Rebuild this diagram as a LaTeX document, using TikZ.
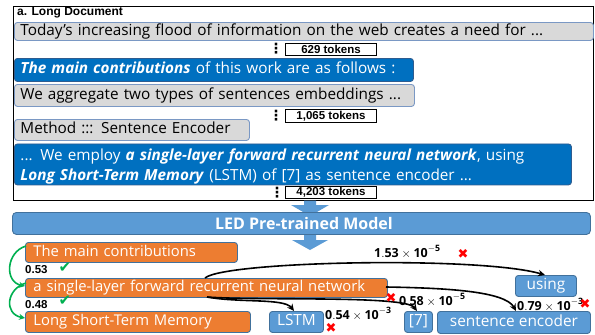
\documentclass[tikz,border=0pt]{standalone}
\usepackage{fontspec}
\setmainfont{Open Sans}
\newfontfamily\labfont{Liberation Sans}
\newfontfamily\symfont{DejaVu Sans}
\usetikzlibrary{arrows.meta}

\definecolor{boxgray}{HTML}{D9D9D9}
\definecolor{grayedge}{HTML}{7A98C4}
\definecolor{deepblue}{HTML}{0070C0}
\definecolor{deepedge}{HTML}{2F5C8F}
\definecolor{midblue}{HTML}{5B9BD5}
\definecolor{edgeblue}{HTML}{41719C}
\definecolor{orangefill}{HTML}{ED7D31}
\definecolor{okgreen}{HTML}{00B050}
\definecolor{badred}{HTML}{FF0000}

\newcommand{\scoretext}[2]{\ensuremath{\mathbf{#1}\times\mathbf{10}^{\mathbf{#2}}}}

\tikzset{
  docbox/.style={rounded corners=3pt, line width=0.9pt, inner xsep=6pt, inner ysep=0pt,
    anchor=north west, align=left, font=\fontsize{15.3}{19.5}\selectfont},
  grayline/.style={docbox, draw=grayedge, fill=boxgray, text=black,
    text height=11pt, text depth=3.8pt},
  blueline/.style={docbox, draw=deepedge, fill=deepblue, text=white},
  tokbox/.style={draw=black, fill=white, line width=0.8pt, inner sep=0pt,
    minimum width=91pt, minimum height=12.5pt,
    font=\labfont\bfseries\fontsize{11.5}{12}\selectfont},
  vdots/.style={inner sep=0pt, font=\symfont\bfseries\fontsize{14}{14}\selectfont},
  keybox/.style={draw=edgeblue, fill=orangefill, text=white, rounded corners=3pt,
    line width=0.9pt, inner xsep=8pt, inner ysep=0pt, anchor=north west, align=left,
    text height=11pt, text depth=3.6pt, font=\fontsize{14.8}{16}\selectfont},
  candbox/.style={draw=edgeblue, fill=midblue, text=white, rounded corners=3pt,
    line width=0.9pt, inner sep=0pt, anchor=north west,
    text height=11pt, text depth=3.8pt, font=\fontsize{15.4}{16}\selectfont},
  blockarrow/.style={fill=midblue, draw=none},
  link/.style={draw=black, line width=1.6pt, -{Stealth[length=7pt,width=6.5pt]}},
  glink/.style={draw=okgreen, line width=1.6pt, -{Stealth[length=6pt,width=6pt]}},
  scorelabel/.style={inner sep=0pt, font=\fontsize{12.5}{13}\selectfont},
  scoresans/.style={inner sep=0pt, font=\labfont\bfseries\fontsize{11.5}{12}\selectfont},
  okmark/.style={inner sep=0pt, text=okgreen, font=\symfont\fontsize{15}{15}\selectfont},
  badmark/.style={inner sep=0pt, text=badred, font=\symfont\fontsize{13}{13}\selectfont},
}

\begin{document}
\begin{tikzpicture}[x=1pt,y=-1pt]
\useasboundingbox (0,0) rectangle (595,335);

% document frame
\draw[line width=1pt] (13,6) rectangle (593.5,200.5);
\node[anchor=west, inner sep=0pt, font=\labfont\bfseries\fontsize{12}{12}\selectfont] (title) at (17,12.5) {a. Long Document};

% paragraphs of the long document
\node[grayline, text width=567pt, minimum height=18pt] (p1) at (14,22)
  {Today’s increasing flood of information on the web creates a need for ...};
\node[vdots] (d1) at (276,49) {⋮};
\node[tokbox] (k1) at (331,49.5) {629 tokens};

\node[blueline, text width=387pt, minimum height=23pt, text height=11pt, text depth=3.8pt] (p2) at (14,58)
  {\textbf{\textit{The main contributions}} of this work are as follows :};
\node[grayline, text width=388pt, minimum height=22pt] (p3) at (14,84)
  {We aggregate two types of sentences embeddings ...};
\node[vdots] (d2) at (276,116) {⋮};
\node[tokbox] (k2) at (331,116) {1,065 tokens};

\node[grayline, text width=223pt, minimum height=21pt] (p4) at (14,119)
  {Method ::: Sentence Encoder};
\node[blueline, text width=545pt, minimum height=41pt] (p5) at (14,143.5)
  {\rule{0pt}{15.5pt}... We employ \textbf{\textit{a single-layer forward recurrent neural network}}, using\\
   \textbf{\textit{Long Short-Term Memory}} (LSTM) of [7] as sentence encoder ...};
\node[vdots] (d3) at (277,192.5) {⋮};
\node[tokbox] (k3) at (331,192.5) {4,203 tokens};

% flow arrows through the model
\path[blockarrow] (304,200.5) -- (316,200.5) -- (316,205) -- (329,205) -- (310,216)
  -- (291,205) -- (304,205) -- cycle;
\path[blockarrow] (304,234) -- (316,234) -- (316,240) -- (328,240) -- (310,250)
  -- (292,240) -- (304,240) -- cycle;
\node[draw=edgeblue, fill=midblue, line width=0.9pt, rounded corners=4pt, text=white,
  minimum width=578pt, minimum height=22pt, inner sep=0pt, anchor=north west,
  font=\bfseries\fontsize{16}{16}\selectfont] (led) at (12,212)
  {\hspace*{5pt}LED Pre-trained Model};

% key phrases
\node[keybox, text width=196pt, minimum height=20pt] (o1) at (25,242) {\mbox{The main contributions}};
\node[keybox, text width=346pt, minimum height=19pt] (o2) at (25,278) {\mbox{a single-layer forward recurrent neural network}};
\node[keybox, text width=209pt, minimum height=21pt] (o3) at (25,311) {\mbox{Long Short-Term Memory}};

% candidate words
\node[candbox, minimum width=54pt, minimum height=21pt] (lstm) at (269,311) {LSTM};
\node[candbox, minimum width=28pt, minimum height=21pt] (ref7) at (404,311) {[7]};
\node[candbox, minimum width=153pt, minimum height=22pt] (senc) at (437,311) {sentence encoder};
\node[candbox, minimum width=61pt, minimum height=21pt] (using) at (515,275) {using};

% attachment points on the boxes
\coordinate (o1a) at (26,246);
\coordinate (o2in) at (25,286);
\coordinate (o2a) at (26,283);
\coordinate (o3in) at (25,318);
\coordinate (o2top) at (205,278);
\coordinate (o2right) at (386,287);
\coordinate (o2bot) at (207,297);
\coordinate (usingin) at (545,275);
\coordinate (sencin) at (516,311);
\coordinate (lstmin) at (294,311);
\coordinate (refin) at (417,311);

% links between key phrases
\draw[glink] (o1a) .. controls (6,252) and (4,282) .. (o2in);
\draw[glink] (o2a) .. controls (6,289) and (4,314) .. (o3in);
\node[scoresans, anchor=west] (s1) at (25,270) {0.53};
\node[okmark] (c1) at (65,267.5) {✔};
\node[scoresans, anchor=west] (s2) at (25,304.5) {0.48};
\node[okmark] (c2) at (65,301) {✔};

% links to candidate words
\draw[link] (o2top) .. controls (225,261) and (480,256) .. (usingin);
\draw[link] (o2right) .. controls (445,288) and (505,291) .. (sencin);
\draw[link] (o2bot) .. controls (240,303) and (284,298) .. (lstmin);
\draw[link] (o2bot) .. controls (260,301) and (405,295) .. (refin);

% scores of the links
\node[scorelabel, anchor=west] (m1) at (374,252) {\scoretext{1.53}{-5}};
\node[badmark] (x1) at (463,254) {✖};
\node[scorelabel, anchor=west] (m2) at (399,300) {\scoretext{0.58}{-5}};
\node[badmark] (x2) at (391,298) {✖};
\node[scorelabel, anchor=west] (m3) at (517,305) {\scoretext{0.79}{-3}};
\node[badmark] (x3) at (585,304) {✖};
\node[scorelabel, anchor=west] (m4) at (325,314) {\scoretext{0.54}{-3}};
\node[badmark] (x4) at (331,328) {✖};
\end{tikzpicture}
\end{document}
